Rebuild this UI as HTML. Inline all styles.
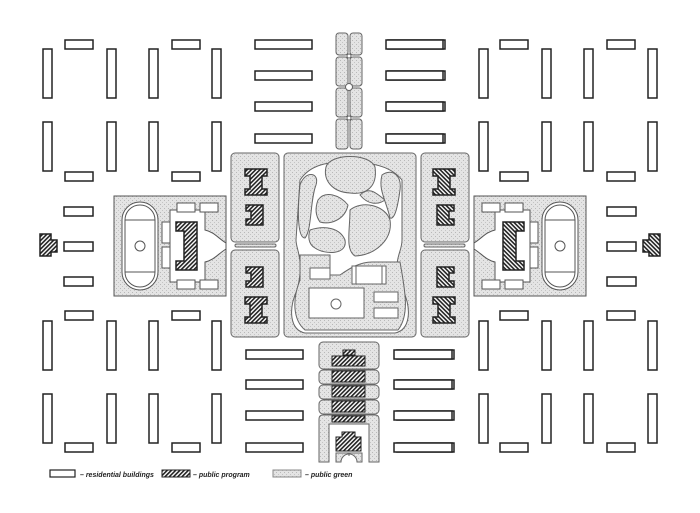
<!DOCTYPE html>
<html><head><meta charset="utf-8"><style>
html,body{margin:0;padding:0;background:#fff;width:700px;height:513px;overflow:hidden}
svg{display:block}
text{font-family:"Liberation Sans",sans-serif;font-weight:bold;font-style:italic;font-size:7px;fill:#222}
</style></head><body>
<svg width="700" height="513" viewBox="0 0 700 513" xmlns="http://www.w3.org/2000/svg">
<defs>
<pattern id="g" width="4" height="4" patternUnits="userSpaceOnUse">
<rect width="4" height="4" fill="#e4e4e4"/><rect x="0" y="0" width="1" height="1" fill="#b8b8b8"/><rect x="2" y="2" width="1" height="1" fill="#c4c4c4"/>
</pattern>
<pattern id="h" width="3" height="3" patternUnits="userSpaceOnUse" patternTransform="rotate(45)">
<rect width="3" height="3" fill="#fff"/><rect width="1.6" height="3" fill="#222"/>
</pattern>
<g id="half" stroke="#222" stroke-width="1.5">
 <!-- residential bars -->
 <g fill="#fff">
  <rect x="43" y="49" width="9" height="49"/><rect x="107" y="49" width="9" height="49"/>
  <rect x="149" y="49" width="9" height="49"/><rect x="212" y="49" width="9" height="49"/>
  <rect x="65" y="40" width="28" height="9"/><rect x="172" y="40" width="28" height="9"/>
  <rect x="43" y="122" width="9" height="49"/><rect x="107" y="122" width="9" height="49"/>
  <rect x="149" y="122" width="9" height="49"/><rect x="212" y="122" width="9" height="49"/>
  <rect x="65" y="172" width="28" height="9"/><rect x="172" y="172" width="28" height="9"/>
  <rect x="65" y="311" width="28" height="9"/><rect x="172" y="311" width="28" height="9"/>
  <rect x="43" y="321" width="9" height="49"/><rect x="107" y="321" width="9" height="49"/>
  <rect x="149" y="321" width="9" height="49"/><rect x="212" y="321" width="9" height="49"/>
  <rect x="43" y="394" width="9" height="49"/><rect x="107" y="394" width="9" height="49"/>
  <rect x="149" y="394" width="9" height="49"/><rect x="212" y="394" width="9" height="49"/>
  <rect x="65" y="443" width="28" height="9"/><rect x="172" y="443" width="28" height="9"/>
  <rect x="64" y="207" width="29" height="9"/><rect x="64" y="242" width="29" height="9"/><rect x="64" y="277" width="29" height="9"/>
  <rect x="255" y="40" width="57" height="9"/><rect x="255" y="71" width="57" height="9"/>
  <rect x="255" y="102" width="57" height="9"/><rect x="255" y="134" width="57" height="9"/>
  <rect x="246" y="350" width="57" height="9"/><rect x="246" y="380" width="57" height="9"/>
  <rect x="246" y="411" width="57" height="9"/><rect x="246" y="443" width="57" height="9"/>
 </g>
 <path d="M40 234 H51 V240 H57 V252 H51 V256 H40 Z" fill="url(#h)"/>
 <!-- wing -->
 <rect x="114" y="196" width="112" height="100" fill="url(#g)" stroke="#555" stroke-width="1"/>
 <path d="M170 210 H205 V230 C214 232 218 238 226 243 V249 C218 254 214 260 205 262 V282 H170 Z" fill="#fff" stroke="#555" stroke-width="1"/>
 <rect x="122" y="202" width="36" height="88" rx="18" fill="#fff" stroke="#555" stroke-width="1"/>
 <rect x="125" y="205" width="30" height="82" rx="15" fill="none" stroke="#555" stroke-width="1"/>
 <line x1="125" y1="220" x2="155" y2="220" stroke="#555" stroke-width="1"/>
 <line x1="125" y1="272" x2="155" y2="272" stroke="#555" stroke-width="1"/>
 <circle cx="140" cy="246" r="5" fill="#fff" stroke="#555" stroke-width="1"/>
 <g fill="#fff" stroke="#555" stroke-width="1">
  <rect x="162" y="222" width="8" height="21"/><rect x="162" y="247" width="8" height="21"/>
  <rect x="177" y="203" width="18" height="9"/><rect x="200" y="203" width="18" height="9"/>
  <rect x="177" y="280" width="18" height="9"/><rect x="200" y="280" width="18" height="9"/>
 </g>
 <path d="M176 222 H197 V270 H176 V261 H184 V231 H176 Z" fill="url(#h)"/>
 <!-- I blocks -->
 <rect x="231" y="153" width="48" height="89" rx="4" fill="url(#g)" stroke="#666" stroke-width="1"/>
 <rect x="231" y="250" width="48" height="87" rx="4" fill="url(#g)" stroke="#666" stroke-width="1"/>
 <rect x="235" y="244" width="41" height="3" rx="1.5" fill="url(#g)" stroke="#666" stroke-width="1"/>
 <path d="M245 169 H267 V176 H262 V189 H267 V195 H245 V189 H250 V176 H245 Z" fill="url(#h)"/>
 <path d="M246 205 H263 V225 H246 V219 H251 V211 H246 Z" fill="url(#h)"/>
 <path d="M246 267 H263 V287 H246 V281 H251 V273 H246 Z" fill="url(#h)"/>
 <path d="M245 297 H267 V304 H262 V317 H267 V323 H245 V317 H250 V304 H245 Z" fill="url(#h)"/>
</g>
</defs>
<use href="#half"/>
<use href="#half" transform="translate(700,0) scale(-1,1)"/>
<g stroke="#222" stroke-width="1.5" fill="#fff">
 <rect x="386" y="40" width="57" height="9"/><rect x="386" y="71" width="57" height="9"/>
 <rect x="386" y="102" width="57" height="9"/><rect x="386" y="134" width="57" height="9"/>
 <rect x="394" y="350" width="58" height="9"/><rect x="394" y="380" width="58" height="9"/>
 <rect x="394" y="411" width="58" height="9"/><rect x="394" y="443" width="58" height="9"/>
</g>
<!-- top strip -->
<g fill="url(#g)" stroke="#666" stroke-width="1">
 <rect x="336" y="33" width="12" height="22" rx="3"/><rect x="350" y="33" width="12" height="22" rx="3"/>
 <rect x="336" y="57" width="12" height="29" rx="3"/><rect x="350" y="57" width="12" height="29" rx="3"/>
 <rect x="336" y="88" width="12" height="29" rx="3"/><rect x="350" y="88" width="12" height="29" rx="3"/>
 <rect x="336" y="119" width="12" height="30" rx="3"/><rect x="350" y="119" width="12" height="30" rx="3"/>
</g>
<g fill="#fff" stroke="#666" stroke-width="1"><circle cx="349" cy="56" r="2"/><circle cx="349" cy="87" r="3.5"/><circle cx="349" cy="118" r="2"/></g>
<!-- central park -->
<rect x="284" y="153" width="132" height="184" rx="4" fill="url(#g)" stroke="#666" stroke-width="1"/>
<path d="M300 180 C310 165 330 160 345 165 C365 160 390 165 402 180 V240 C402 255 390 260 403 290 C412 310 410 330 395 333 H305 C290 330 288 310 297 290 C305 260 296 250 296 240 Z" fill="#fff" stroke="#666" stroke-width="1"/>
<g fill="url(#g)" stroke="#666" stroke-width="1">
 <path d="M326 167 C330 153 370 153 375 167 C378 188 365 195 350 193 C332 192 323 180 326 167 Z"/>
 <path d="M300 185 C305 170 320 172 316 185 C310 200 312 230 305 238 C298 238 297 215 300 185 Z"/>
 <path d="M318 200 C325 190 340 195 348 205 C345 220 330 225 320 222 C315 215 315 208 318 200 Z"/>
 <path d="M310 230 C325 225 340 228 345 240 C348 255 325 255 315 248 C308 244 308 236 310 230 Z"/>
 <path d="M350 210 C362 200 385 205 390 220 C393 240 375 255 355 256 C345 250 350 230 350 210 Z"/>
 <path d="M360 195 C370 185 378 195 385 200 C378 205 368 205 360 195 Z"/>
 <path d="M382 175 C392 168 402 175 400 190 C398 205 395 220 390 218 C386 200 378 190 382 175 Z"/>
 <path d="M300 255 H330 V275 H340 C350 268 360 262 372 262 H400 C405 290 410 315 398 330 H305 C293 320 292 300 300 280 Z"/>
</g>
<g fill="#fff" stroke="#666" stroke-width="1">
 <rect x="309" y="288" width="55" height="30"/>
 <circle cx="336" cy="304" r="5"/>
 <rect x="310" y="268" width="20" height="11"/>
 <rect x="352" y="266" width="34" height="18"/><rect x="356" y="266" width="26" height="18"/>
 <rect x="374" y="292" width="24" height="10"/><rect x="374" y="308" width="24" height="10"/>
</g>
<!-- bottom strip -->
<g fill="url(#g)" stroke="#666" stroke-width="1">
 <rect x="319" y="342" width="60" height="27" rx="4"/>
 <rect x="319" y="370" width="60" height="14" rx="4"/>
 <rect x="319" y="385" width="60" height="14" rx="4"/>
 <rect x="319" y="400" width="60" height="14" rx="4"/>
 <path d="M323 415 H375 Q379 415 379 419 V462 H369 V424 H329 V462 H319 V419 Q319 415 323 415 Z"/>
</g>
<g fill="url(#h)" stroke="#222" stroke-width="1">
 <rect x="343" y="350" width="12" height="5"/>
 <rect x="332" y="356" width="33" height="10"/>
 <rect x="332" y="371" width="33" height="11"/>
 <rect x="332" y="386" width="33" height="11"/>
 <rect x="332" y="401" width="33" height="11"/>
 <rect x="332" y="416" width="33" height="6"/>
 <path d="M342 432 H355 V437 H361 V451 H336 V437 H342 Z"/>
</g>
<path d="M336 453 H362 V462 H357 A8 8 0 0 0 341 462 H336 Z" fill="url(#g)" stroke="#666" stroke-width="1"/>
<line x1="349" y1="453" x2="349" y2="456" stroke="#666"/>
<!-- legend -->
<rect x="50" y="470" width="25" height="7" fill="#fff" stroke="#222" stroke-width="1.2"/>
<text x="80" y="477">– residential buildings</text>
<rect x="162" y="470" width="28" height="7" fill="url(#h)" stroke="#222" stroke-width="1"/>
<text x="193" y="477">– public program</text>
<rect x="273" y="470" width="28" height="7" fill="url(#g)" stroke="#888" stroke-width="1"/>
<text x="305" y="477">– public green</text>
</svg>
</body></html>
